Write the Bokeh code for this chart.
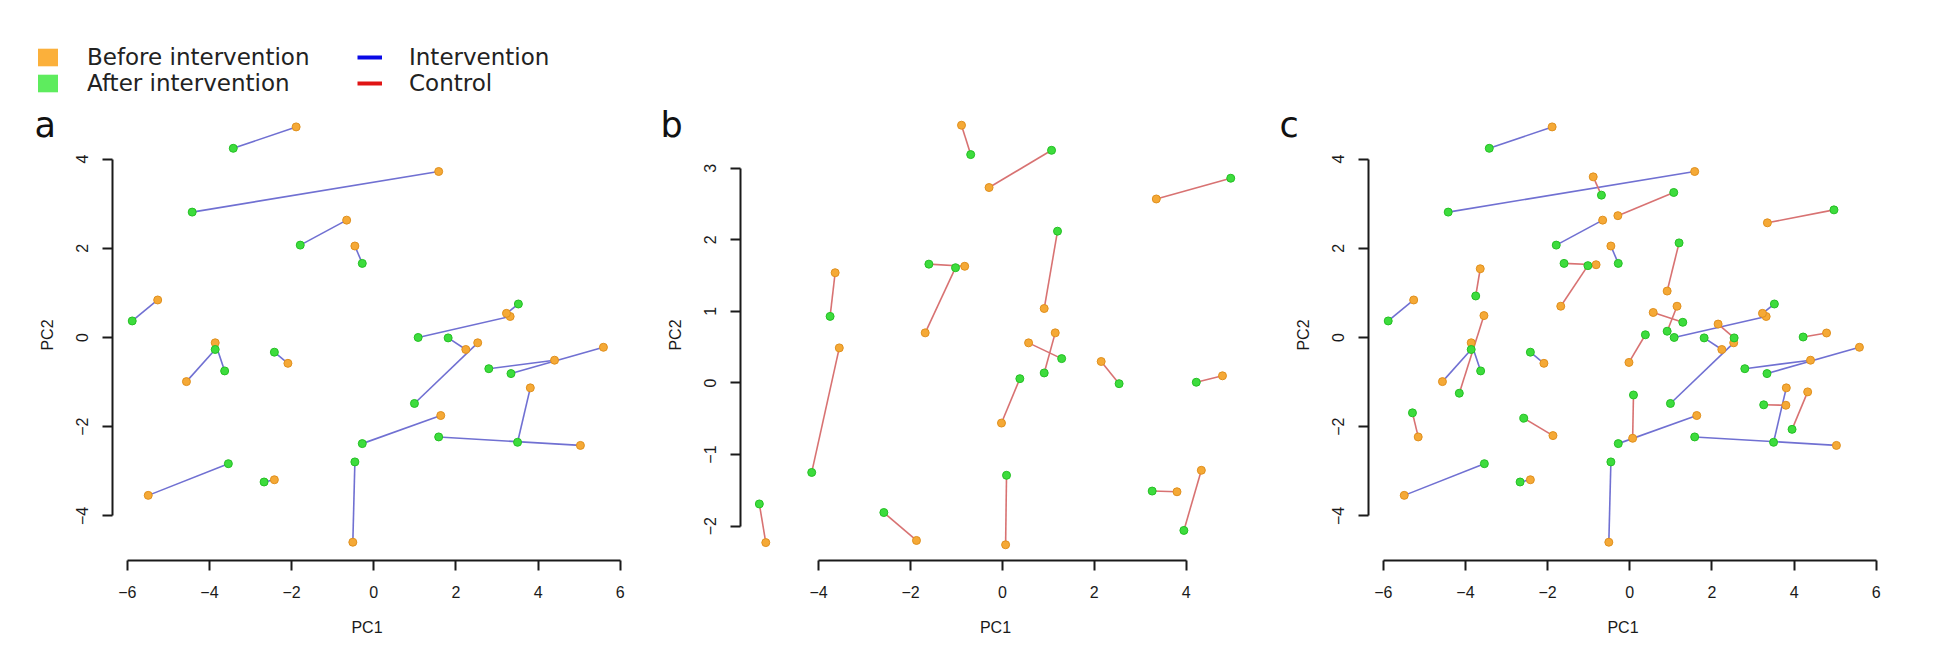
from bokeh.plotting import figure
from bokeh.models import (Range1d, FixedTicker, Legend, LegendItem, Label,
                          ColumnDataSource, LinearAxis)
from bokeh.layouts import row
from bokeh.embed import file_html
from bokeh.resources import INLINE

# ---------------- data ----------------
# Intervention group: before (orange) -> after (green)
int_before_x = [-1.89, 1.58, -0.66, -0.46, -5.26, 3.32, 3.23, -4.56, -3.86, -2.09,
                2.24, 2.53, 4.40, 5.59, 3.81, 5.03, 1.63, -0.51, -5.49, -2.42]
int_before_y = [4.72, 3.72, 2.63, 2.05, 0.84, 0.47, 0.54, -0.99, -0.12, -0.58,
                -0.27, -0.12, -0.51, -0.22, -1.13, -2.42, -1.75, -4.59, -3.54, -3.19]
int_after_x = [-3.42, -4.42, -1.79, -0.28, -5.88, 1.08, 3.52, -3.86, -3.63, -2.42,
               1.81, 0.99, 2.80, 3.34, 3.50, 1.58, -0.28, -0.46, -3.54, -2.67]
int_after_y = [4.24, 2.81, 2.07, 1.66, 0.37, 0.00, 0.75, -0.27, -0.75, -0.33,
               -0.01, -1.48, -0.70, -0.81, -2.35, -2.23, -2.38, -2.79, -2.83, -3.24]

# Control group: before (orange) -> after (green)
ctrl_before_x = [-0.89, -0.29, 3.35, -3.64, -0.82, -1.68, 0.91, -3.55, 0.57, 1.15,
                 -0.02, 2.15, 4.79, -5.15, -1.87, 0.07, 3.80, 4.33]
ctrl_before_y = [3.60, 2.73, 2.57, 1.54, 1.63, 0.70, 1.04, 0.49, 0.56, 0.70,
                 -0.56, 0.30, 0.10, -2.23, -2.20, -2.26, -1.52, -1.22]
ctrl_after_x = [-0.69, 1.07, 4.97, -3.75, -1.60, -1.02, 1.20, -4.15, 1.29, 0.91,
                0.38, 2.54, 4.22, -5.29, -2.58, 0.09, 3.26, 3.95]
ctrl_after_y = [3.19, 3.25, 2.86, 0.93, 1.66, 1.61, 2.12, -1.25, 0.34, 0.14,
                0.06, -0.01, 0.01, -1.69, -1.81, -1.29, -1.51, -2.06]

x_ticks_ac = [-6, -4, -2, 0, 2, 4, 6]
y_ticks_ac = [-4, -2, 0, 2, 4]
x_ticks_b = [-4, -2, 0, 2, 4]
y_ticks_b = [-2, -1, 0, 1, 2, 3]

panel_labels = ["a", "b", "c"]
legend_labels = ["Before intervention", "After intervention", "Intervention", "Control"]
x_axis_label = "PC1"
y_axis_label = "PC2"

# ---------------- styles / layout constants ----------------
ORANGE_FILL, ORANGE_LINE = "#F5A936", "#E0901E"
GREEN_FILL, GREEN_LINE = "#3DDC3D", "#24C024"
BLUE_SEG, RED_SEG = "#7070D2", "#D87272"
LEG_ORANGE, LEG_GREEN = "#FBB03B", "#5EEC5E"
LEG_BLUE, LEG_RED = "#0A0AE6", "#E01515"
AX_COLOR = "#1a1a1a"
TICK_FONT = "Liberation Sans"
H = 660
PLOT_TOP, PLOT_BOTTOM = 109, 560   # R plot region (pixels from top)
NAN = float("nan")


def fmt(t):
    return str(t).replace("-", "\u2212")


def style_axis(ax):
    ax.axis_line_width = 2
    ax.axis_line_color = AX_COLOR
    ax.major_tick_line_width = 2
    ax.major_tick_line_color = AX_COLOR
    ax.major_tick_out = 10
    ax.major_tick_in = 0
    ax.minor_tick_out = 0
    ax.minor_tick_in = 0
    ax.major_label_text_font = TICK_FONT
    ax.major_label_text_font_size = "16px"
    ax.major_label_text_color = AX_COLOR


def label_axis(text, bounds, loc, standoff):
    ax = LinearAxis(ticker=FixedTicker(ticks=[], minor_ticks=[]), axis_label=text,
                    bounds=bounds, fixed_location=loc, axis_line_color=None,
                    major_tick_out=0, major_tick_in=0, minor_tick_out=0, minor_tick_in=0,
                    axis_label_standoff=standoff, axis_label_text_font=TICK_FONT,
                    axis_label_text_font_size="16px", axis_label_text_font_style="normal",
                    axis_label_text_color=AX_COLOR)
    return ax


def make_panel(width, left, right, xlim, ylim, xt, yt, letter, letter_x):
    sx = (right - left) / (xlim[1] - xlim[0])
    sy = (PLOT_BOTTOM - PLOT_TOP) / (ylim[1] - ylim[0])
    xr = Range1d(xlim[0] - left / sx, xlim[1] + (width - right) / sx)
    yr = Range1d(ylim[0] - (H - PLOT_BOTTOM) / sy, ylim[1] + PLOT_TOP / sy)
    p = figure(width=width, height=H, x_range=xr, y_range=yr,
               output_backend="svg", toolbar_location=None, title=None, min_border=0)
    p.outline_line_color = None
    p.grid.visible = False
    p.background_fill_color = "white"
    p.border_fill_color = "white"

    xa, ya = p.xaxis[0], p.yaxis[0]
    for ax in (xa, ya):
        style_axis(ax)
    xa.ticker = FixedTicker(ticks=xt, minor_ticks=[])
    ya.ticker = FixedTicker(ticks=yt, minor_ticks=[])
    xa.bounds = (xt[0], xt[-1])
    ya.bounds = (yt[0], yt[-1])
    xa.fixed_location = ylim[0]
    ya.fixed_location = xlim[0]
    xa.major_label_overrides = {t: fmt(t) for t in xt}
    ya.major_label_overrides = {t: fmt(t) for t in yt}
    ya.major_label_orientation = "vertical"
    xa.major_label_standoff = 15
    ya.major_label_standoff = 14

    p.add_layout(label_axis(x_axis_label, xlim, ylim[0], 58), "below")
    p.add_layout(label_axis(y_axis_label, ylim, xlim[0], 57), "left")

    p.add_layout(Label(x=letter_x, y=H - 124, x_units="screen", y_units="screen",
                       text=letter, text_font="DejaVu Sans", text_font_size="35px",
                       text_color="#111111", text_baseline="alphabetic"))
    return p


def draw_pairs(p, bx, by, ax_, ay, color):
    src = ColumnDataSource(dict(bx=bx, by=by, ax=ax_, ay=ay))
    p.segment(x0="bx", y0="by", x1="ax", y1="ay", source=src,
              line_color=color, line_width=1.6)
    return src


def draw_points(p, src):
    p.scatter(x="bx", y="by", source=src, size=8, fill_color=ORANGE_FILL,
              line_color=ORANGE_LINE, line_width=1)
    p.scatter(x="ax", y="ay", source=src, size=8, fill_color=GREEN_FILL,
              line_color=GREEN_LINE, line_width=1)


xlim_ac, ylim_ac = (-6.36, 6.03), (-5.0, 5.11)
xlim_b, ylim_b = (-5.70, 5.40), (-2.48, 3.82)

fa = make_panel(638, 112, 621, xlim_ac, ylim_ac, x_ticks_ac, y_ticks_ac, panel_labels[0], 34)
fb = make_panel(632, 102, 612, xlim_b, ylim_b, x_ticks_b, y_ticks_b, panel_labels[1], 22)
fc = make_panel(680, 98, 607, xlim_ac, ylim_ac, x_ticks_ac, y_ticks_ac, panel_labels[2], 9)

sa = draw_pairs(fa, int_before_x, int_before_y, int_after_x, int_after_y, BLUE_SEG)
draw_points(fa, sa)

sb = draw_pairs(fb, ctrl_before_x, ctrl_before_y, ctrl_after_x, ctrl_after_y, RED_SEG)
draw_points(fb, sb)

sc1 = draw_pairs(fc, int_before_x, int_before_y, int_after_x, int_after_y, BLUE_SEG)
sc2 = draw_pairs(fc, ctrl_before_x, ctrl_before_y, ctrl_after_x, ctrl_after_y, RED_SEG)
draw_points(fc, sc1)
draw_points(fc, sc2)

# ---------------- legend (top-left of panel a) ----------------
# legend-only renderers (NaN data: nothing drawn in the plot itself)
r_before = fa.quad(left=[NAN], right=[NAN], top=[NAN], bottom=[NAN],
                   fill_color=LEG_ORANGE, line_color=None)
r_after = fa.quad(left=[NAN], right=[NAN], top=[NAN], bottom=[NAN],
                  fill_color=LEG_GREEN, line_color=None)
r_int = fa.line(x=[NAN], y=[NAN], line_color=LEG_BLUE, line_width=4)
r_ctrl = fa.line(x=[NAN], y=[NAN], line_color=LEG_RED, line_width=4)

main_legend = Legend(
    items=[LegendItem(label=legend_labels[0], renderers=[r_before]),
           LegendItem(label=legend_labels[1], renderers=[r_after]),
           LegendItem(label=legend_labels[2], renderers=[r_int]),
           LegendItem(label=legend_labels[3], renderers=[r_ctrl])],
    nrows=2, orientation="vertical", location=(35, H - 96),
    glyph_width=25, glyph_height=22, label_standoff=27, label_width=270, label_height=22,
    spacing=0, padding=0, margin=0, border_line_color=None, background_fill_alpha=0,
    label_text_font="DejaVu Sans", label_text_font_size="23px", label_text_color="#222222")
fa.add_layout(main_legend)

layout = row(fa, fb, fc)
open("out.html", "w").write(file_html(layout, INLINE))
